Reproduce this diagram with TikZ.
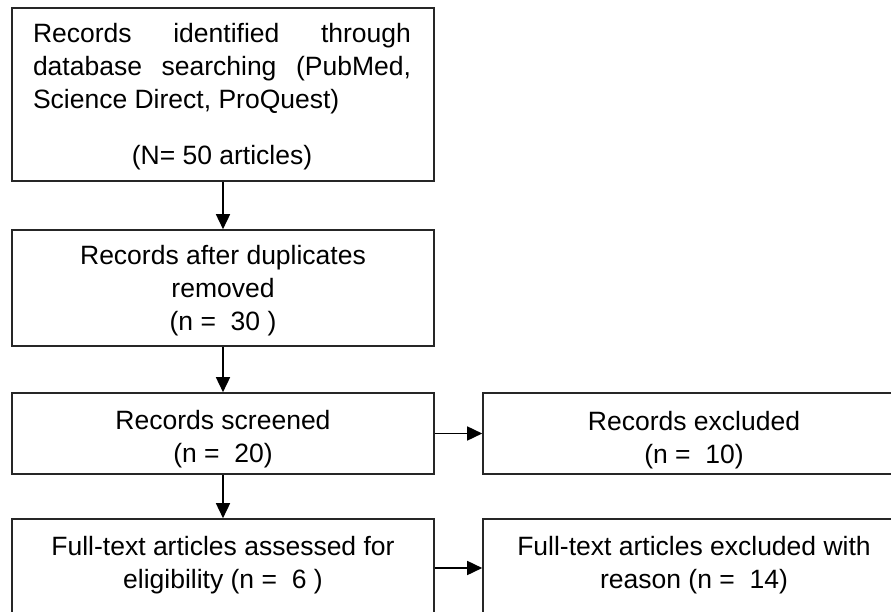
\documentclass[tikz,border=0pt]{standalone}
\usepackage{fontspec}
\setmainfont{Liberation Sans}
\usetikzlibrary{arrows.meta}
\begin{document}
\begin{tikzpicture}[x=1pt,y=-1pt,
  box/.style={draw=black!85, line width=1.6pt, minimum width=422pt, inner sep=0pt},
  flow/.style={draw=black, line width=1.6pt, -{Triangle[length=15pt,width=14pt]}},
  txt/.style={anchor=base, inner sep=0pt, font=\fontsize{26.5}{33}\selectfont}]
\useasboundingbox (0,0) rectangle (891,612);
\clip (0,0) rectangle (891,612);
% boxes
\node[box, minimum height=173pt] (b1) at (223,94.5) {};
\node[box, minimum height=116pt] (b2) at (223,288) {};
\node[box, minimum height=81pt]  (b3) at (223,433.5) {};
\node[box, minimum height=81pt]  (b4) at (694,433.5) {};
\node[box, minimum height=98pt]  (b5) at (223,568) {};
\node[box, minimum height=98pt]  (b6) at (694,568) {};
% texts
\node[txt] (t1) at (222,43) {\parbox[t]{378pt}{\makebox[\linewidth][s]{Records identified through}\\
  \makebox[\linewidth][s]{database searching (PubMed,}\\
  Science Direct, ProQuest)\\[23pt]
  \makebox[\linewidth]{(N= 50 articles)}}};
\node[txt] (t2) at (223,265) {\parbox[t]{400pt}{\centering Records after duplicates\\ removed\\ (n = \ 30 )}};
\node[txt] (t3) at (223,429) {\parbox[t]{400pt}{\centering Records screened\\ (n = \ 20)}};
\node[txt] (t4) at (694,430) {\parbox[t]{400pt}{\centering Records excluded\\ (n = \ 10)}};
\node[txt] (t5) at (223,555) {\parbox[t]{400pt}{\centering Full-text articles assessed for\\ eligibility (n = \ 6 )}};
\node[txt] (t6) at (694,555) {\parbox[t]{400pt}{\centering Full-text articles excluded with\\ reason (n = \ 14)}};
% connectors
\draw[flow] (b1.south) -- (b2.north);
\draw[flow] (b2.south) -- (b3.north);
\draw[flow] (b3.south) -- (b5.north);
\draw[flow] (b3.east) -- (b4.west);
\draw[flow] (b5.east) -- (b6.west);
\end{tikzpicture}
\end{document}
